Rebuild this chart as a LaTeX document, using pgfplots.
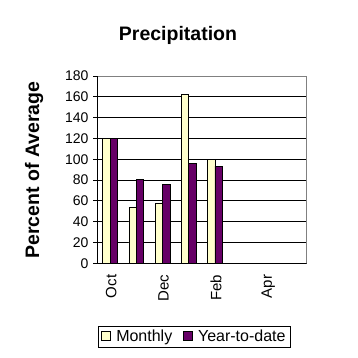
\documentclass[border=0pt]{standalone}
\usepackage{pgfplots}
\pgfplotsset{compat=1.18}
\usepackage{fontspec}
\setmainfont{Liberation Sans}
\definecolor{monthly}{HTML}{FFFFCC}
\definecolor{ytd}{HTML}{660066}
\begin{document}
\begin{tikzpicture}[x=1pt,y=1pt]
\path[use as bounding box] (0,0) rectangle (358,358);
\begin{axis}[
  at={(97pt,94.7pt)}, anchor=south west,
  scale only axis, width=209.7pt, height=187.3pt,
  xmin=-0.5, xmax=7.5, ymin=0, ymax=180,
  ytick={0,20,...,180},
  xtick={0,2,4,6}, xticklabels={Oct,Dec,Feb,Apr},
  minor xtick={-0.5,0.5,...,7.5},
  xtick pos=bottom, ytick pos=left,
  tick align=outside,
  major tick length=4pt, minor tick length=4pt,
  xtick style={draw=none},
  minor x tick style={black, line width=0.8pt},
  ytick style={black, line width=0.8pt},
  ymajorgrids, grid style={black, line width=0.8pt},
  axis line style={gray, line width=0.8pt},
  /pgf/number format/assume math mode=true,
  tick label style={font=\fontsize{14}{16}\selectfont},
  yticklabel style={xshift=-1pt},
  xticklabel style={rotate=90, anchor=east, yshift=-1pt, xshift=-4pt, font=\fontsize{15}{17}\selectfont},
  ybar=0pt, bar width=7.4pt,
  legend columns=2,
  legend style={at={(0.465,-0.391)}, anchor=center, draw=black, line width=0.8pt,
    font=\fontsize{16}{18}\selectfont, inner ysep=2pt, inner xsep=3pt,
    /tikz/every odd column/.append style={column sep=3pt},
    /tikz/every even column/.append style={column sep=9pt}},
  legend image code/.code={\draw[#1, line width=0.8pt] (0pt,-4pt) rectangle (9pt,5pt);},
]
\addplot[fill=monthly, draw=black, line width=0.8pt] coordinates {(0,120) (1,54) (2,58) (3,162) (4,99.5)};
\addplot[fill=ytd, draw=black, line width=0.8pt] coordinates {(0,120) (1,81) (2,76) (3,96) (4,93.5)};
\legend{Monthly,Year-to-date}
\draw[black, line width=0.8pt] (rel axis cs:0,0) -- (rel axis cs:1,0);
\draw[black, line width=0.8pt] (rel axis cs:0,0) -- (rel axis cs:0,1);
\end{axis}
\node[anchor=base, font=\bfseries\fontsize{19.5}{22}\selectfont] at (178,317) {Precipitation};
\node[rotate=90, anchor=base, font=\bfseries\fontsize{19.5}{22}\selectfont] at (39,188) {Percent of Average};
\end{tikzpicture}
\end{document}
